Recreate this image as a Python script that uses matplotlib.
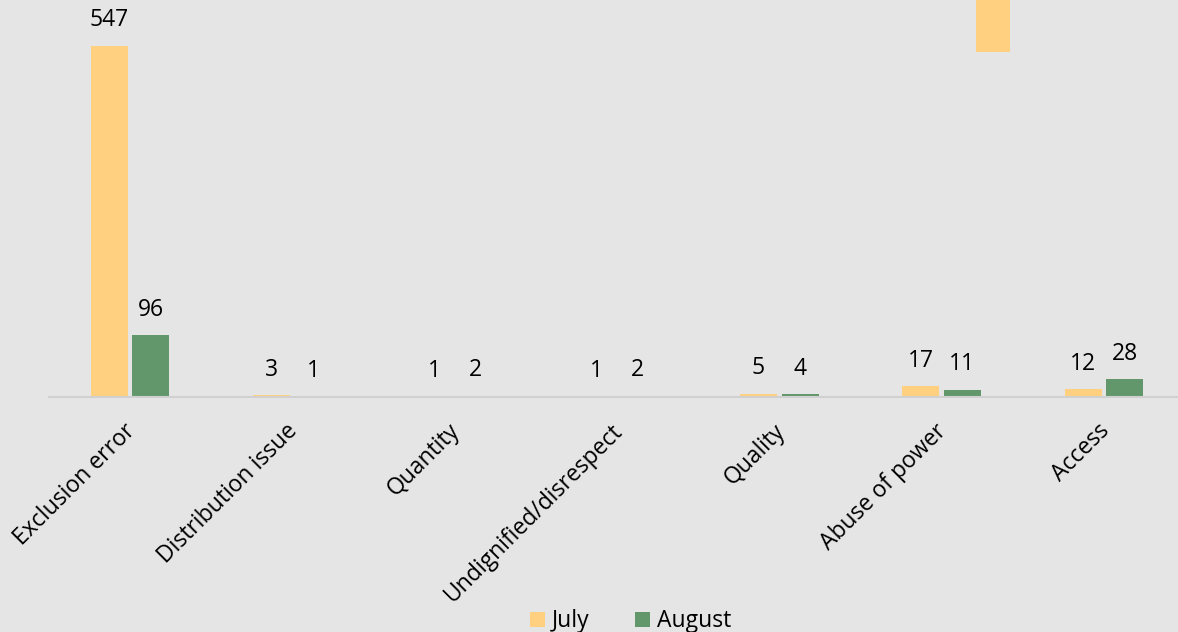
import numpy as np
import matplotlib.pyplot as plt

plt.rcParams['font.family'] = ['Open Sans', 'DejaVu Sans']

categories = ['Exclusion error', 'Distribution issue', 'Quantity',
              'Undignified/disrespect', 'Quality', 'Abuse of power', 'Access']
july = [547, 3, 1, 1, 5, 17, 12]
august = [96, 1, 2, 2, 4, 11, 28]

# stray bar hanging from the top edge in the source image
stray_x = [5.32]
stray_bottom = [537]
stray_height = [200]

july_color = '#FFD080'
august_color = '#62976B'
bg = '#E5E5E5'

fig = plt.figure(figsize=(11.78, 6.32), dpi=100, facecolor=bg)
ax = fig.add_axes([49 / 1178, 1 - 397 / 632, 1 - 49 / 1178, 397 / 632])
ax.set_facecolor(bg)

x = np.arange(len(categories))
w = 0.228
off = 0.128
b1 = ax.bar(x - off, july, w, color=july_color, label='July')
b2 = ax.bar(x + off, august, w, color=august_color, label='August')
ax.bar(stray_x, stray_height, w * 0.92, bottom=stray_bottom, color=july_color)

for bars in (b1, b2):
    for r in bars:
        ax.text(r.get_x() + r.get_width() / 2, r.get_height() + 21,
                f'{int(r.get_height())}', ha='center', va='bottom', fontsize=16.5)

ax.set_xlim(-0.5, (1178 - 130) / 162.3)
ax.set_ylim(0, 618)
ax.set_yticks([])
for s in ['top', 'right', 'left']:
    ax.spines[s].set_visible(False)
ax.spines['bottom'].set_color('#D0D0D0')
ax.spines['bottom'].set_linewidth(1.5)
ax.tick_params(axis='x', length=0, pad=16)
ax.set_xticks(x - 0.04)
ax.set_xticklabels(categories, rotation=45, ha='right', rotation_mode='anchor',
                   fontsize=16.5)

fig.legend(handles=[b1, b2], loc='lower center', ncol=2, frameon=False,
           fontsize=16.5, bbox_to_anchor=(0.535, -0.035), handlelength=0.65,
           handleheight=0.65, handletextpad=0.3, columnspacing=2.0)

fig.savefig('out.png', dpi=100, facecolor=bg)
